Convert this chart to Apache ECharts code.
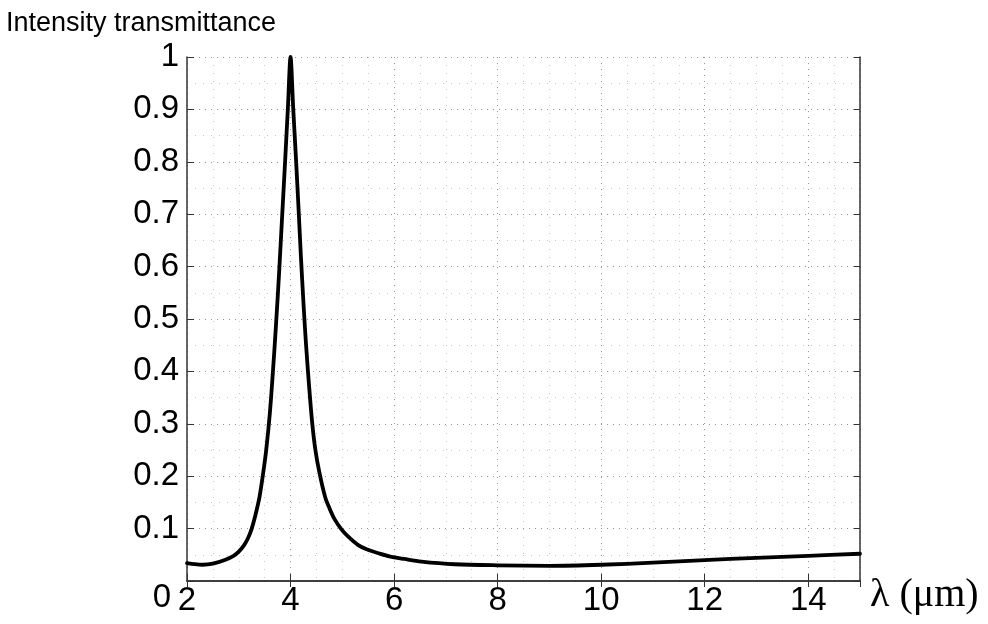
<!DOCTYPE html>
<html>
<head>
<meta charset="utf-8">
<script src="https://cdn.jsdelivr.net/npm/echarts@6/dist/echarts.min.js"></script>
<style>
  html, body { margin: 0; padding: 0; background: #fff; }
  #chart { width: 988px; height: 624px; }
</style>
</head>
<body>
<div id="chart"></div>
<script>
// wavelength in micrometres
const lambda = [
  2.0, 2.15, 2.3, 2.5, 2.73, 2.9, 3.0, 3.1, 3.18, 3.25, 3.32, 3.4, 3.47, 3.53,
  3.6, 3.66, 3.72, 3.78, 3.84, 3.9, 3.95, 4.0,
  4.05, 4.1, 4.15, 4.2, 4.25, 4.3, 4.36, 4.42, 4.48, 4.56, 4.67, 4.76, 4.85,
  4.98, 5.11, 5.3, 5.48, 5.7, 5.91, 6.2, 6.53, 7.17, 8, 9, 10, 11, 12, 13, 14, 15
];
// intensity transmittance
const transmittance = [
  0.034, 0.032, 0.031, 0.033, 0.040, 0.048, 0.056, 0.068, 0.082, 0.100, 0.125, 0.160, 0.205, 0.250,
  0.320, 0.400, 0.490, 0.590, 0.700, 0.810, 0.905, 1.0,
  0.905, 0.815, 0.720, 0.620, 0.530, 0.450, 0.370, 0.300, 0.250, 0.206, 0.160, 0.137, 0.118,
  0.099, 0.085, 0.069, 0.060, 0.053, 0.047, 0.042, 0.037, 0.032, 0.030, 0.029, 0.031, 0.035, 0.040, 0.044, 0.048, 0.052
];
const xTicks = [2, 4, 6, 8, 10, 12, 14];
const yTicks = [0, 0.1, 0.2, 0.3, 0.4, 0.5, 0.6, 0.7, 0.8, 0.9, 1];

const chart = echarts.init(document.getElementById('chart'));

const labelFont = { color: '#000', fontSize: 33, fontFamily: 'Liberation Sans, Arial, sans-serif' };
const majorGrid = { show: true, lineStyle: { color: '#999', width: 1, type: [1, 5] } };
const minorGrid = { show: true, lineStyle: { color: '#c8c8c8', width: 1, type: [1, 7] } };
const frameLine = { show: true, lineStyle: { color: '#333', width: 1.5 } };

chart.setOption({
  animation: false,
  backgroundColor: '#fff',
  grid: { left: 187, right: 128, top: 57, bottom: 43, containLabel: false },
  title: {
    text: 'Intensity transmittance',
    left: 1, top: 5,
    textStyle: { fontSize: 27, fontWeight: 'normal', color: '#000', fontFamily: 'Liberation Sans, Arial, sans-serif' }
  },
  xAxis: [{
    type: 'value', min: 2, max: 15, interval: 2,
    axisLine: frameLine,
    axisTick: { show: true, inside: true, length: 7, lineStyle: { color: '#333' } },
    axisLabel: {
      ...labelFont, margin: 3,
      showMaxLabel: false,
      formatter: v => xTicks.includes(v) ? String(v) : ''
    },
    splitLine: majorGrid,
    minorTick: { show: false, splitNumber: 4 },
    minorSplitLine: minorGrid,
    name: 'λ (μm)',
    nameLocation: 'end',
    nameGap: 10,
    nameTextStyle: { fontSize: 40, color: '#000', fontFamily: 'Liberation Serif, DejaVu Serif, serif', verticalAlign: 'top', padding: [-6, 0, 0, 0] }
  }, {
    type: 'value', min: 2, max: 15, interval: 2, position: 'top',
    axisLine: frameLine,
    axisTick: { show: true, inside: true, length: 6, lineStyle: { color: '#333' } },
    axisLabel: { show: false },
    splitLine: { show: false }
  }],
  yAxis: [{
    type: 'value', min: 0, max: 1, interval: 0.1,
    axisLine: frameLine,
    axisTick: { show: true, inside: true, length: 7, lineStyle: { color: '#333' } },
    axisLabel: {
      ...labelFont, margin: 8,
      formatter: v => {
        const t = yTicks.find(k => Math.abs(k - v) < 1e-6);
        if (t === undefined) return '';
        if (t === 0) return '{z|0}';
        return String(+t.toFixed(1));
      },
      rich: { z: { ...labelFont, padding: [34, 8, 0, 0] } }
    },
    splitLine: majorGrid,
    minorTick: { show: false, splitNumber: 2 },
    minorSplitLine: minorGrid
  }, {
    type: 'value', min: 0, max: 1, interval: 0.1, position: 'right',
    axisLine: frameLine,
    axisTick: { show: true, inside: true, length: 6, lineStyle: { color: '#333' } },
    axisLabel: { show: false },
    splitLine: { show: false }
  }],
  series: [{
    type: 'line',
    data: lambda.map((x, i) => [x, transmittance[i]]),
    showSymbol: false,
    smooth: 0.3,
    lineStyle: { color: '#000', width: 3.8, join: 'round', cap: 'round' }
  }]
});
</script>
</body>
</html>
